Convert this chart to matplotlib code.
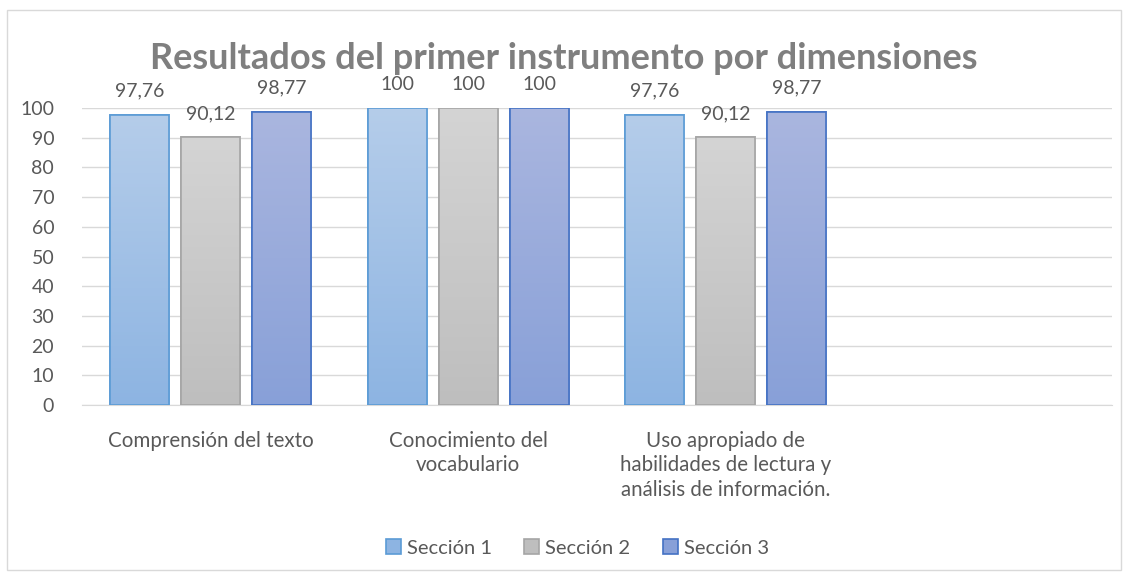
import numpy as np
import matplotlib
matplotlib.use('Agg')
import matplotlib.pyplot as plt
from matplotlib.patches import Rectangle
from matplotlib.colors import LinearSegmentedColormap

plt.rcParams['font.family'] = ['Lato', 'DejaVu Sans']

categorias = ['Comprensión del texto', 'Conocimiento del\nvocabulario',
              'Uso apropiado de\nhabilidades de lectura y\nanálisis de información.']
series = ['Sección 1', 'Sección 2', 'Sección 3']
seccion1 = [97.76, 100, 97.76]
seccion2 = [90.12, 100, 90.12]
seccion3 = [98.77, 100, 98.77]
etiquetas1 = ['97,76', '100', '97,76']
etiquetas2 = ['90,12', '100', '90,12']
etiquetas3 = ['98,77', '100', '98,77']

valores = [seccion1, seccion2, seccion3]
etiquetas = [etiquetas1, etiquetas2, etiquetas3]
# (top colour, bottom colour, edge colour)
estilos = [('#b5cdea', '#8db4e2', '#5b9bd5'),
           ('#d4d4d4', '#bebebe', '#a5a5a5'),
           ('#aab6df', '#88a0d8', '#4472c4')]
texto = '#595959'

fig = plt.figure(figsize=(11.28, 5.77), dpi=100)
fig.patches.append(Rectangle((0.0062, 0.012), 0.9876, 0.97, transform=fig.transFigure,
                             fill=False, edgecolor='#d9d9d9', linewidth=1))
ax = fig.add_axes([0.0727, 0.2981, 0.9131, 0.5147])

ancho = 0.23
paso = 0.276
x = np.arange(len(categorias))
grad = np.linspace(0, 1, 256).reshape(-1, 1)

for i in range(3):
    arriba, abajo, borde = estilos[i]
    cmap = LinearSegmentedColormap.from_list('g%d' % i, [arriba, abajo])
    pos = x + (i - 1) * paso
    barras = ax.bar(pos, valores[i], width=ancho, color=abajo, edgecolor=borde,
                    linewidth=1.2, label=series[i], zorder=3)
    for b, v, t in zip(barras, valores[i], etiquetas[i]):
        x0, w, h = b.get_x(), b.get_width(), b.get_height()
        im = ax.imshow(grad, cmap=cmap, aspect='auto', extent=(x0, x0 + w, 0, h),
                       origin='upper', zorder=3.5)
        im.set_clip_path(b)
        ax.add_patch(Rectangle((x0, 0), w, h, fill=False, edgecolor=borde,
                               linewidth=1.2, zorder=4))
        ax.text(x0 + w / 2, h + 8.0, t, ha='center', va='center', fontsize=14,
                color=texto, clip_on=False)

ax.set_xlim(-0.5, 3.5)
ax.set_ylim(0, 100)
ax.set_yticks(np.arange(0, 101, 10))
ax.yaxis.grid(True, color='#d9d9d9', linewidth=1, zorder=0)
ax.set_axisbelow(True)
for s in ['top', 'right', 'left']:
    ax.spines[s].set_visible(False)
ax.spines['bottom'].set_color('#d9d9d9')
ax.tick_params(axis='y', length=0, labelsize=14, labelcolor=texto, pad=20)
ax.set_xticks(x)
ax.set_xticklabels(categorias, linespacing=1.3, va='top')
ax.tick_params(axis='x', length=0, labelsize=14.8, labelcolor=texto, pad=18.5)

fig.text(0.5, 0.898, 'Resultados del primer instrumento por dimensiones',
         ha='center', va='center', fontsize=26, fontweight='bold', color='#7f7f7f')

leg = fig.legend(*ax.get_legend_handles_labels(), loc='center', bbox_to_anchor=(0.512, 0.05),
                 ncol=3, frameon=False, fontsize=14.5, handlelength=0.75, handleheight=0.75,
                 handletextpad=0.3, columnspacing=1.6)
for t in leg.get_texts():
    t.set_color(texto)

fig.savefig('out.png', dpi=100)
